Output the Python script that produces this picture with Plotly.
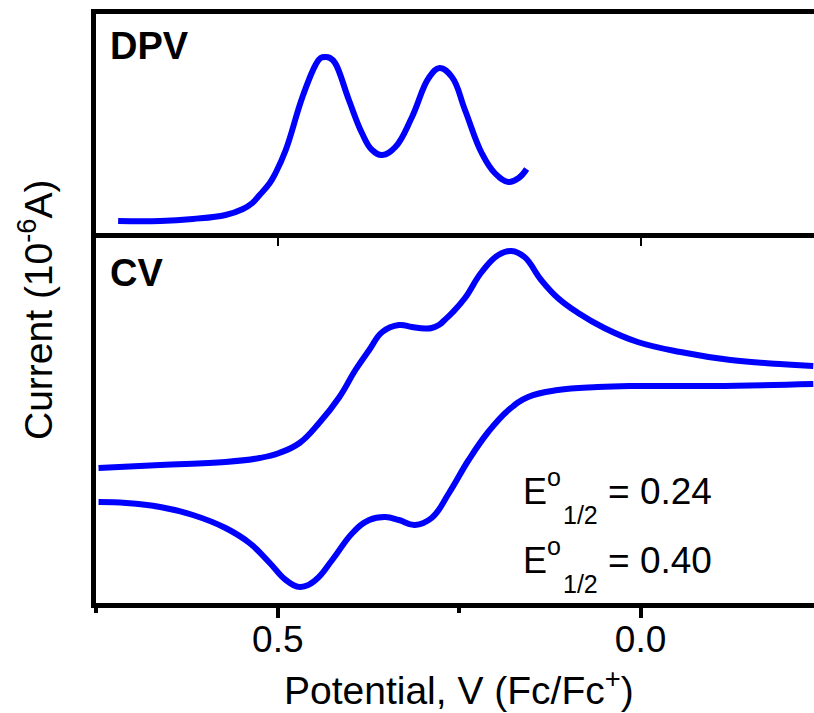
import plotly.graph_objects as go

# ---------------- data (potential in V vs Fc/Fc+, current in 10^-6 A) ----------------
dpv_potential = [0.720, 0.662, 0.617, 0.572, 0.548, 0.535, 0.525, 0.511, 0.503, 0.489,
                 0.466, 0.448, 0.441, 0.434, 0.428, 0.421, 0.402, 0.384, 0.370,
                 0.356, 0.338, 0.315, 0.292, 0.277, 0.260, 0.242, 0.219, 0.201, 0.182,
                 0.168, 0.157]
dpv_current = [0.35, 0.35, 0.40, 0.50, 0.65, 0.80, 1.00, 1.30, 1.55, 2.125,
               3.45, 4.25, 4.425, 4.45, 4.425, 4.30, 3.375, 2.55, 2.125,
               2.00, 2.20, 2.95, 3.925, 4.175, 3.95, 3.125, 2.05, 1.55, 1.325,
               1.425, 1.65]

cv_fwd_potential = [0.747, 0.662, 0.572, 0.525, 0.498, 0.470, 0.443, 0.415, 0.393, 0.374,
                    0.356, 0.333, 0.315, 0.297, 0.288, 0.278, 0.270, 0.260, 0.242, 0.219,
                    0.196, 0.178, 0.160, 0.137, 0.114, 0.086, 0.050, 0.004, -0.055, -0.124,
                    -0.192, -0.238]
cv_fwd_current = [-1.20, -1.125, -1.05, -0.95, -0.825, -0.575, -0.075, 0.575, 1.25, 1.75,
                  2.20, 2.375, 2.325, 2.29, 2.30, 2.375, 2.50, 2.675, 3.05, 3.70,
                  4.125, 4.225, 4.075, 3.50, 3.05, 2.675, 2.30, 1.95, 1.70, 1.50,
                  1.40, 1.35]

cv_rev_potential = [-0.238, -0.100, 0.013, 0.059, 0.114, 0.155, 0.182, 0.210, 0.237, 0.264,
                    0.288, 0.311, 0.333, 0.352, 0.374, 0.397, 0.425, 0.448, 0.469, 0.489,
                    0.511, 0.539, 0.572, 0.617, 0.662, 0.709, 0.747]
cv_rev_current = [0.90, 0.85, 0.85, 0.825, 0.75, 0.575, 0.25, -0.30, -1.00, -1.825,
                  -2.45, -2.625, -2.50, -2.425, -2.50, -2.825, -3.50, -4.00, -4.175, -4.00,
                  -3.575, -3.075, -2.70, -2.375, -2.175, -2.075, -2.05]

major_ticks = [0.5, 0.0]
major_labels = ["0.5", "0.0"]
minor_ticks = [0.75, 0.25]
e_half_values = ["0.24", "0.40"]

x_range = [0.7505, -0.239]
FONT = "Arial, 'Liberation Sans', sans-serif"
BLUE = "#0000ff"

fig = go.Figure()
line_style = dict(color=BLUE, width=6, shape="spline", smoothing=1.2)
fig.add_trace(go.Scatter(x=dpv_potential, y=dpv_current, mode="lines", line=line_style,
                         xaxis="x2", yaxis="y2"))
fig.add_trace(go.Scatter(x=cv_fwd_potential, y=cv_fwd_current, mode="lines", line=line_style,
                         xaxis="x", yaxis="y"))
fig.add_trace(go.Scatter(x=cv_rev_potential, y=cv_rev_current, mode="lines", line=line_style,
                         xaxis="x", yaxis="y"))

W, H = 814, 713
ML, MR, MT, MB = 96, 0, 14, 110
PW, PH = W - ML - MR, H - MT - MB


def px(xp):
    return (xp - ML) / PW


def py(yp):
    return (H - MB - yp) / PH


cv_top = py(238)

fig.update_layout(
    width=W, height=H, template="none",
    margin=dict(l=ML, r=MR, t=MT, b=MB, pad=0),
    paper_bgcolor="white", plot_bgcolor="white", showlegend=False,
    font=dict(family=FONT, color="black"),
    xaxis=dict(domain=[0, 1], anchor="y", range=x_range, showline=True, linewidth=5,
               linecolor="black", mirror=True, ticks="outside", tickvals=major_ticks,
               ticktext=major_labels, ticklen=10, tickwidth=4, tickcolor="black",
               ticklabelstandoff=-10,
               tickfont=dict(size=37, family=FONT), showgrid=False, zeroline=False,
               automargin=False,
               minor=dict(tickvals=minor_ticks, ticks="outside", ticklen=5, tickwidth=4,
                          tickcolor="black", showgrid=False)),
    xaxis3=dict(overlaying="x", anchor="y", side="top", matches="x", ticks="inside",
                tickvals=major_ticks, ticklen=8, tickwidth=1.5, tickcolor="black",
                showticklabels=False, showline=False, showgrid=False, zeroline=False,
                automargin=False),
    yaxis=dict(domain=[0, cv_top], anchor="x", range=[-4.575, 4.55], showline=True,
               linewidth=5, linecolor="black", ticks="", showticklabels=False,
               showgrid=False, zeroline=False, automargin=False),
    xaxis2=dict(domain=[0, 1], anchor="y2", matches="x", side="top", showline=True,
                linewidth=5, linecolor="black", ticks="", showticklabels=False,
                showgrid=False, zeroline=False, automargin=False),
    yaxis2=dict(domain=[cv_top, 1], anchor="x2", range=[-0.075, 5.525], showline=True,
                linewidth=5, linecolor="black", ticks="", showticklabels=False,
                showgrid=False, zeroline=False, automargin=False),
)
# empty trace so the inner tick axis (x3) renders
fig.add_trace(go.Scatter(x=[None], y=[None], xaxis="x3", yaxis="y", showlegend=False))

ann = []
ann.append(dict(text="<b>DPV</b>", x=px(108), y=py(23), xanchor="left", yanchor="top",
                font=dict(size=38, family=FONT)))
ann.append(dict(text="<b>CV</b>", x=px(108), y=py(250), xanchor="left", yanchor="top",
                font=dict(size=38, family=FONT)))
for val, dy in zip(e_half_values, [0, 69]):
    ann.append(dict(text="E", x=px(521), y=py(468.5 + dy), xanchor="left", yanchor="top",
                    font=dict(size=36, family=FONT)))
    ann.append(dict(text="o", x=px(545), y=py(460.5 + dy), xanchor="left", yanchor="top",
                    font=dict(size=25, family=FONT)))
    ann.append(dict(text="1/2", x=px(561), y=py(498.5 + dy), xanchor="left", yanchor="top",
                    font=dict(size=25, family=FONT)))
    ann.append(dict(text="= " + val, x=px(606), y=py(468.5 + dy), xanchor="left",
                    yanchor="top", font=dict(size=37, family=FONT)))
ann.append(dict(text="Potential, V (Fc/Fc<sup>+</sup>)", x=px(458.5), y=py(661),
                xanchor="center", yanchor="top", font=dict(size=39, family=FONT)))
ann.append(dict(text="Current (10<sup>-6</sup>A)", x=px(35), y=py(310), textangle=-90,
                xanchor="center", yanchor="middle", font=dict(size=39, family=FONT)))
for a in ann:
    a.update(xref="paper", yref="paper", showarrow=False)
fig.update_layout(annotations=ann)

fig.write_html("out.html")
